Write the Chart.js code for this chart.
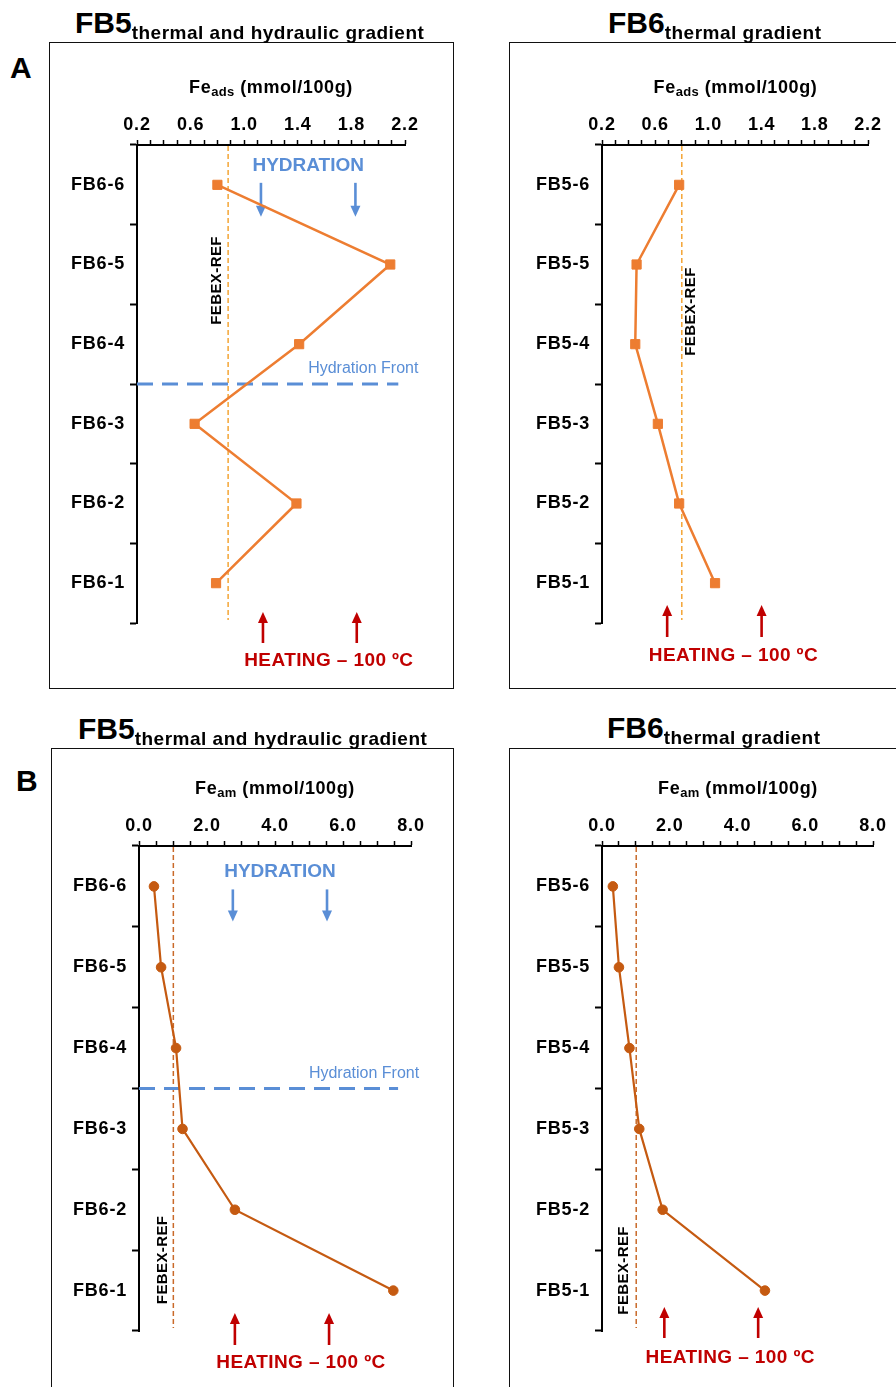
<!DOCTYPE html>
<html>
<head>
<meta charset="utf-8">
<title>Fe profilleri</title>
<script src="https://cdn.jsdelivr.net/npm/chart.js@4.4.1/dist/chart.umd.min.js"></script>
<style>
  html, body { margin:0; padding:0; }
  body { width:896px; height:1387px; overflow:hidden; position:relative; background:#fff;
         font-family:"Liberation Sans", Arial, sans-serif; color:#000; }
  .kutu { position:absolute; border:1.5px solid #111; box-sizing:border-box; }
  .grafik { position:absolute; }
  .yazi { position:absolute; white-space:nowrap; font-weight:bold; line-height:1; }
  .baslik { font-size:30px; }
  .baslik span { font-size:19px; letter-spacing:0.5px; position:relative; top:6px; }
  .eksen { font-size:18px; letter-spacing:0.6px; transform:translateX(-50%); }
  .eksen span { font-size:13px; position:relative; top:3px; letter-spacing:0.3px; }
  .harf { font-size:30px; }
</style>
</head>
<body>

<div class="kutu" style="left:49px;top:42px;width:405px;height:647px"></div>
<div class="kutu" style="left:509px;top:42px;width:405px;height:647px"></div>
<div class="kutu" style="left:51px;top:748px;width:403px;height:660px"></div>
<div class="kutu" style="left:509px;top:748px;width:405px;height:660px"></div>

<canvas id="cA1" class="grafik"></canvas>
<canvas id="cA2" class="grafik"></canvas>
<canvas id="cB1" class="grafik"></canvas>
<canvas id="cB2" class="grafik"></canvas>

<div class="yazi harf" style="left:10px;top:52.9px">A</div>
<div class="yazi harf" style="left:16px;top:766.3px">B</div>

<div class="yazi baslik" style="left:75px;top:8px">FB5<span>thermal and hydraulic gradient</span></div>
<div class="yazi baslik" style="left:608px;top:8px">FB6<span>thermal gradient</span></div>
<div class="yazi baslik" style="left:78px;top:713.6px">FB5<span>thermal and hydraulic gradient</span></div>
<div class="yazi baslik" style="left:607px;top:712.6px">FB6<span>thermal gradient</span></div>

<div class="yazi eksen" style="left:271px;top:77.5px">Fe<span>ads</span> (mmol/100g)</div>
<div class="yazi eksen" style="left:735.5px;top:77.5px">Fe<span>ads</span> (mmol/100g)</div>
<div class="yazi eksen" style="left:275px;top:778.8px">Fe<span>am</span> (mmol/100g)</div>
<div class="yazi eksen" style="left:738px;top:778.8px">Fe<span>am</span> (mmol/100g)</div>

<script>
/*VERİLER*/
var numuneFB6 = ['FB6-6', 'FB6-5', 'FB6-4', 'FB6-3', 'FB6-2', 'FB6-1'];
var numuneFB5 = ['FB5-6', 'FB5-5', 'FB5-4', 'FB5-3', 'FB5-2', 'FB5-1'];

var feAdsFB5 = [0.80, 2.09, 1.41, 0.63, 1.39, 0.79];
var feAdsFB6 = [0.78, 0.46, 0.45, 0.62, 0.78, 1.05];
var feAmFB5 = [0.44, 0.65, 1.09, 1.28, 2.82, 7.48];
var feAmFB6 = [0.32, 0.50, 0.81, 1.10, 1.79, 4.81];

var febexRefAds = [0.88, 0.80];
var febexRefAm = [1.01, 1.01];

var adsTikEtiketleri = ['0.2', '0.6', '1.0', '1.4', '1.8', '2.2'];
var amTikEtiketleri = ['0.0', '2.0', '4.0', '6.0', '8.0'];

var hidrasyonOklariAds = [1.125, 1.83];
var hidrasyonOklariAm = [2.76, 5.53];
var isitmaOklariAdsFB5 = [1.14, 1.84];
var isitmaOklariAdsFB6 = [0.69, 1.40];
var isitmaOklariAmFB5 = [2.82, 5.59];
var isitmaOklariAmFB6 = [1.84, 4.61];
/*VERİLER*/

var YAZI = '"Liberation Sans", Arial, sans-serif';
var MAVI = '#5A8ED6';
var KIRMIZI = '#C00000';

function okCiz(ctx, x, kuyruk, uc, renk) {
  var yon = uc > kuyruk ? 1 : -1;
  ctx.setLineDash([]);
  ctx.strokeStyle = renk;
  ctx.fillStyle = renk;
  ctx.lineWidth = 2.6;
  ctx.beginPath();
  ctx.moveTo(x, kuyruk);
  ctx.lineTo(x, uc - yon * 8);
  ctx.stroke();
  ctx.beginPath();
  ctx.moveTo(x, uc);
  ctx.lineTo(x - 5, uc - yon * 11);
  ctx.lineTo(x + 5, uc - yon * 11);
  ctx.closePath();
  ctx.fill();
}

function yaziYaz(ctx, metin, x, y, font, renk, hiza, aralik) {
  ctx.font = font;
  ctx.fillStyle = renk;
  ctx.textAlign = hiza;
  ctx.textBaseline = 'middle';
  ctx.letterSpacing = aralik || '0px';
  ctx.fillText(metin, x, y);
}

/*EK ÇİZİMLER: FEBEX-REF, HİDRASYON, ISITMA*/
var ekPlugin = {
  id: 'ekler',
  beforeDraw: function (chart) {
    chart.ctx.letterSpacing = '0.8px';
  },
  beforeDatasetsDraw: function (chart, args, ek) {
    var ctx = chart.ctx;
    var sx = chart.scales.x;
    var sy = chart.scales.y;
    var alan = chart.chartArea;
    ctx.save();

    // FEBEX-REF çizgisi
    var rx = sx.getPixelForValue(ek.ref);
    ctx.strokeStyle = ek.refRenk;
    ctx.lineWidth = 1.5;
    ctx.setLineDash([5, 3]);
    ctx.beginPath();
    ctx.moveTo(rx, alan.top + 1);
    ctx.lineTo(rx, alan.bottom - 3);
    ctx.stroke();

    // hidrasyon cephesi
    if (ek.cephe) {
      var cy = sy.getPixelForValue(ek.cephe.idx);
      ctx.strokeStyle = MAVI;
      ctx.lineWidth = 3;
      ctx.setLineDash([16, 9]);
      ctx.beginPath();
      ctx.moveTo(alan.left, cy);
      ctx.lineTo(sx.getPixelForValue(ek.cephe.bitis), cy);
      ctx.stroke();
    }

    // oklar
    if (ek.hidrasyon) {
      var hy = sy.getPixelForValue(0);
      for (var i = 0; i < ek.hidrasyon.length; i++) {
        okCiz(ctx, sx.getPixelForValue(ek.hidrasyon[i]), hy + ek.hidrasyonY[0], hy + ek.hidrasyonY[1], MAVI);
      }
    }
    for (var j = 0; j < ek.isitma.length; j++) {
      okCiz(ctx, sx.getPixelForValue(ek.isitma[j]), alan.bottom + ek.isitmaY[1], alan.bottom + ek.isitmaY[0], KIRMIZI);
    }
    ctx.restore();
  },
  afterDraw: function (chart, args, ek) {
    var ctx = chart.ctx;
    var sx = chart.scales.x;
    var sy = chart.scales.y;
    var alan = chart.chartArea;
    ctx.save();

    // FEBEX-REF yazısı
    ctx.translate(sx.getPixelForValue(ek.ref) + ek.refYazi.dx, sy.getPixelForValue(ek.refYazi.idx));
    ctx.rotate(-Math.PI / 2);
    yaziYaz(ctx, 'FEBEX-REF', 0, 0, 'bold 15px ' + YAZI, '#000', 'center', '0.4px');
    ctx.setTransform(1, 0, 0, 1, 0, 0);

    if (ek.hidrasyon) {
      var hx = (sx.getPixelForValue(ek.hidrasyon[0]) + sx.getPixelForValue(ek.hidrasyon[1])) / 2;
      yaziYaz(ctx, 'HYDRATION', hx, sy.getPixelForValue(0) + ek.hidrasyonYaziY, 'bold 19px ' + YAZI, MAVI, 'center');
    }
    if (ek.cephe) {
      yaziYaz(ctx, 'Hydration Front', sx.getPixelForValue(ek.cephe.yaziSag), sy.getPixelForValue(ek.cephe.idx) - 15,
        '16px ' + YAZI, MAVI, 'right');
    }
    var ix = (sx.getPixelForValue(ek.isitma[0]) + sx.getPixelForValue(ek.isitma[1])) / 2 + 19;
    yaziYaz(ctx, 'HEATING \u2013 100 \u00baC', ix, alan.bottom + ek.isitmaYaziY, 'bold 19px ' + YAZI, KIRMIZI, 'center', '0.4px');
    ctx.restore();
    chart.ctx.letterSpacing = '0px';
  }
};

var paneller = [
  { canvas: 'cA1', kutu: {x: 49, y: 42, w: 405, h: 647}, alan: {l: 137, t: 145, r: 405, b: 623},
    etiketler: numuneFB6, degerler: feAdsFB5, min: 0.2, max: 2.2, adim: 0.1, tikler: adsTikEtiketleri, tur: 'ads',
    ek: { ref: febexRefAds[0], refYazi: {dx: -11, idx: 1.2},
          hidrasyon: hidrasyonOklariAds, hidrasyonY: [-2, 32], hidrasyonYaziY: -19,
          cephe: {idx: 2.5, bitis: 2.15, yaziSag: 2.30},
          isitma: isitmaOklariAdsFB5, isitmaY: [-11, 20], isitmaYaziY: 38 } },
  { canvas: 'cA2', kutu: {x: 509, y: 42, w: 405, h: 647}, alan: {l: 602, t: 145, r: 868, b: 623},
    etiketler: numuneFB5, degerler: feAdsFB6, min: 0.2, max: 2.2, adim: 0.1, tikler: adsTikEtiketleri, tur: 'ads',
    ek: { ref: febexRefAds[1], refYazi: {dx: 9, idx: 1.59},
          isitma: isitmaOklariAdsFB6, isitmaY: [-18, 14], isitmaYaziY: 33 } },
  { canvas: 'cB1', kutu: {x: 51, y: 748, w: 403, h: 660}, alan: {l: 139, t: 846, r: 411, b: 1331},
    etiketler: numuneFB6, degerler: feAmFB5, min: 0, max: 8, adim: 0.5, tikler: amTikEtiketleri, tur: 'am',
    ek: { ref: febexRefAm[0], refYazi: {dx: -10, idx: 4.62},
          hidrasyon: hidrasyonOklariAm, hidrasyonY: [3, 35], hidrasyonYaziY: -15,
          cephe: {idx: 2.5, bitis: 7.62, yaziSag: 8.24},
          isitma: isitmaOklariAmFB5, isitmaY: [-18, 14], isitmaYaziY: 32 } },
  { canvas: 'cB2', kutu: {x: 509, y: 748, w: 405, h: 660}, alan: {l: 602, t: 846, r: 873, b: 1331},
    etiketler: numuneFB5, degerler: feAmFB6, min: 0, max: 8, adim: 0.5, tikler: amTikEtiketleri, tur: 'am',
    ek: { ref: febexRefAm[1], refYazi: {dx: -12, idx: 4.75},
          isitma: isitmaOklariAmFB6, isitmaY: [-24, 7], isitmaYaziY: 27 } }
];

paneller.forEach(function (p) {
  var tuval = document.getElementById(p.canvas);
  tuval.width = p.kutu.w;
  tuval.height = p.kutu.h;
  tuval.style.left = p.kutu.x + 'px';
  tuval.style.top = p.kutu.y + 'px';

  var yGenislik = p.alan.l - p.kutu.x;
  var xYukseklik = p.alan.t - p.kutu.y;
  var sagBosluk = p.kutu.x + p.kutu.w - p.alan.r;
  var altBosluk = p.kutu.y + p.kutu.h - p.alan.b;

  var ads = p.tur === 'ads';
  var renk = ads ? '#ED7D31' : '#C55A11';
  p.ek.refRenk = ads ? '#F4A535' : '#C96A2A';

  new Chart(tuval, {
    type: 'line',
    data: {
      labels: p.etiketler,
      datasets: [{
        data: p.degerler,
        borderColor: renk,
        backgroundColor: renk,
        borderWidth: ads ? 2.5 : 2.2,
        pointStyle: ads ? 'rect' : 'circle',
        pointRadius: ads ? 6.5 : 4.8,
        pointBorderWidth: 1,
        tension: 0,
        clip: false
      }]
    },
    options: {
      indexAxis: 'y',
      responsive: false,
      animation: false,
      layout: { padding: { left: 0, top: 0, right: sagBosluk, bottom: altBosluk } },
      plugins: { legend: { display: false }, tooltip: { enabled: false }, ekler: p.ek },
      scales: {
        x: {
          type: 'linear', position: 'top', min: p.min, max: p.max,
          afterFit: function (s) { s.height = xYukseklik; },
          ticks: {
            stepSize: p.adim, autoSkip: false, maxRotation: 0, minRotation: 0, padding: 4, color: '#000',
            font: { family: YAZI, size: 18, weight: 'bold' },
            callback: function (v) {
              var e = Number(v).toFixed(1);
              return p.tikler.indexOf(e) >= 0 ? e : '';
            }
          },
          grid: { drawOnChartArea: false, drawTicks: true, tickLength: 5, tickWidth: 1.5, tickColor: '#000' },
          border: { color: '#000', width: 2 }
        },
        y: {
          type: 'category', offset: true,
          afterFit: function (s) { s.width = yGenislik; },
          ticks: { padding: 5, color: '#000', font: { family: YAZI, size: 18, weight: 'bold' } },
          grid: { offset: true, drawOnChartArea: false, drawTicks: true, tickLength: 7, tickWidth: 2, tickColor: '#000' },
          border: { color: '#000', width: 2 }
        }
      }
    },
    plugins: [ekPlugin]
  });
});
</script>
</body>
</html>
